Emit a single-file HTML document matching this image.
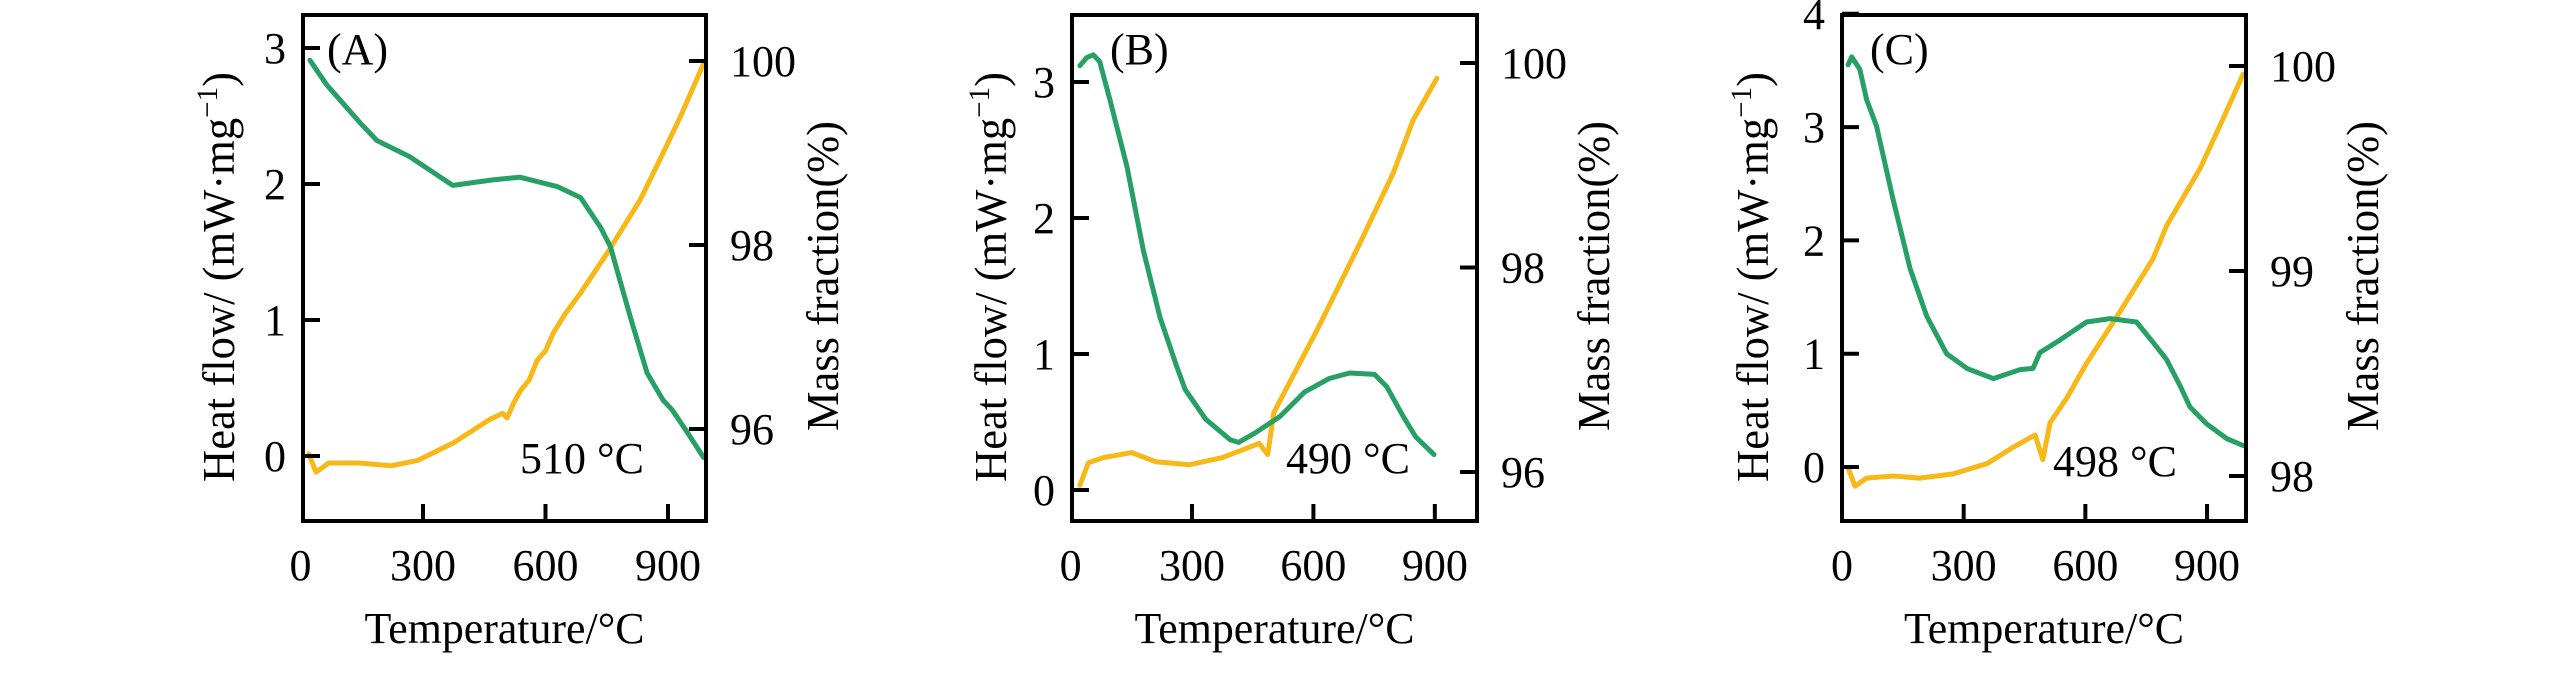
<!DOCTYPE html>
<html><head><meta charset="utf-8"><style>
html,body{margin:0;padding:0;background:#fff;}
svg{display:block;font-family:"Liberation Serif",serif;}
</style></head><body>
<svg id="fig" width="2567" height="674" viewBox="0 0 2567 674"></svg>
<script>
// ---- Panel A data ----
const aDscT = [23,64,146,187,268,373,471,537,630,686,735,759,808,849,888,910,944,987];
const aDscV = [2.91,2.73,2.45,2.32,2.20,1.99,2.03,2.05,1.98,1.90,1.68,1.54,1.02,0.61,0.41,0.34,0.19,-0.01];
const aTgT = [20,38,69,146,222,288,375,462,495,506,523,539,560,580,600,620,648,686,751,832,888,930,986];
const aTgV = [95.73,95.53,95.63,95.63,95.60,95.66,95.85,96.10,96.17,96.12,96.29,96.42,96.53,96.75,96.85,97.05,97.25,97.48,97.91,98.49,99.0,99.39,99.96];
// ---- Panel B data ----
const bDscT = [23,40,56,72,97,139,180,221,262,283,334,394,415,456,517,578,639,690,751,781,822,853,898];
const bDscV = [3.12,3.18,3.20,3.15,2.87,2.38,1.76,1.27,0.91,0.74,0.52,0.37,0.35,0.42,0.54,0.72,0.82,0.86,0.85,0.76,0.54,0.39,0.26];
const bTgT = [23,44,80,151,211,293,374,466,487,502,527,609,633,715,797,846,905];
const bTgV = [95.87,96.09,96.14,96.19,96.10,96.07,96.14,96.28,96.17,96.58,96.77,97.39,97.58,98.24,98.92,99.44,99.85];
// ---- Panel C data ----
const cDscT = [15,24,44,61,85,126,168,209,258,308,373,439,471,488,537,603,661,726,767,800,833,858,899,949,989];
const cDscV = [3.55,3.62,3.51,3.24,3.01,2.36,1.75,1.33,1.0,0.87,0.78,0.86,0.87,1.01,1.12,1.28,1.31,1.28,1.10,0.95,0.72,0.53,0.38,0.25,0.19];
const cTgT = [15,32,61,126,192,274,357,422,476,495,513,554,603,685,767,800,883,932,989];
const cTgV = [98.04,97.95,97.99,98.0,97.99,98.01,98.06,98.14,98.20,98.08,98.26,98.38,98.55,98.80,99.06,99.22,99.50,99.71,99.96];
// ---- tick labels ----
const xTicks = [0,300,600,900];
const aLeftTicks = [0,1,2,3];
const aRightTicks = [96,98,100];
const bLeftTicks = [0,1,2,3];
const bRightTicks = [96,98,100];
const cLeftTicks = [0,1,2,3,4];
const cRightTicks = [98,99,100];

const NS = "http://www.w3.org/2000/svg";
const svg = document.getElementById('fig');
function el(tag, attrs, parent){const e=document.createElementNS(NS,tag);for(const k in attrs)e.setAttribute(k,attrs[k]);(parent||svg).appendChild(e);return e;}
function txt(s, attrs, parent){const e=el('text',attrs,parent);e.textContent=s;return e;}

const GREEN = "#27a066", YELLOW = "#f7b818";

const panels = [
 {id:'a', L:303, R:706, T:15, B:521, x0:300.5, xs:0.4083, yl0:456, yls:136, yr0:[96,429], yrs:92,
  dscT:aDscT, dscV:aDscV, tgT:aTgT, tgV:aTgV, lt:aLeftTicks, rt:aRightTicks, tag:'(A)', tagX:327, temp:'510 °C', tempX:520, tempY:473, yTitleX:234, mTitleX:838},
 {id:'b', L:1072, R:1477, T:15, B:521, x0:1070.6, xs:0.4047, yl0:490, yls:136, yr0:[96,472], yrs:102.25,
  dscT:bDscT, dscV:bDscV, tgT:bTgT, tgV:bTgV, lt:bLeftTicks, rt:bRightTicks, tag:'(B)', tagX:1110, temp:'490 °C', tempX:1286, tempY:473, yTitleX:1006, mTitleX:1609},
 {id:'c', L:1842, R:2246, T:15, B:521, x0:1842, xs:0.4056, yl0:467, yls:113.3, yr0:[98,476], yrs:205,
  dscT:cDscT, dscV:cDscV, tgT:cTgT, tgV:cTgV, lt:cLeftTicks, rt:cRightTicks, tag:'(C)', tagX:1870, temp:'498 °C', tempX:2053, tempY:476, yTitleX:1768, mTitleX:2378}
];

panels.forEach(p=>{
  const g = el('g',{});
  
  
  const X = t => p.x0 + t*p.xs;
  const YL = v => p.yl0 - v*p.yls;
  const YR = v => p.yr0[1] - (v-p.yr0[0])*p.yrs;
  const clip = el('clipPath',{id:'clip-'+p.id},g);
  el('rect',{x:p.L,y:p.T,width:p.R-p.L,height:p.B-p.T},clip);

  const line = (T,V,Y,col,name)=>{
    const d = T.map((t,i)=>(i?'L':'M')+X(t).toFixed(1)+','+Y(V[i]).toFixed(1)).join(' ');
    const path = el('path',{d:d,fill:'none',stroke:col,'stroke-width':5,'stroke-linejoin':'round','stroke-linecap':'round','clip-path':'url(#clip-'+p.id+')'},g);
    
    
  };
  line(p.tgT,p.tgV,YR,YELLOW,'mass-fraction-line-'+p.id);
  line(p.dscT,p.dscV,YL,GREEN,'heat-flow-line-'+p.id);

  const frame = el('rect',{x:p.L,y:p.T,width:p.R-p.L,height:p.B-p.T,fill:'none',stroke:'#000','stroke-width':4},g);
  
  

  xTicks.forEach(t=>{
    const x = X(t);
    if(t>0) el('line',{x1:x,x2:x,y1:p.B,y2:p.B-17,stroke:'#000','stroke-width':4},g);
    const lb = txt(String(t),{x:x,y:580,'font-size':44,'text-anchor':'middle'},g);
    
    
  });
  p.lt.forEach(v=>{
    const y = YL(v);
    el('line',{x1:p.L,x2:p.L+17,y1:y,y2:y,stroke:'#000','stroke-width':4},g);
    const lb = txt(String(v),{x:p.L-17,y:y+15,'font-size':44,'text-anchor':'end'},g);
    
    
  });
  p.rt.forEach(v=>{
    const y = YR(v);
    el('line',{x1:p.R,x2:p.R-17,y1:y,y2:y,stroke:'#000','stroke-width':4},g);
    const lb = txt(String(v),{x:p.R+24,y:y+15,'font-size':44,'text-anchor':'start'},g);
    
    
  });
  const xt = txt('Temperature/°C',{x:(p.L+p.R)/2,y:643,'font-size':44,'text-anchor':'middle',textLength:280,lengthAdjust:'spacingAndGlyphs'},g);
  
  
  const yt = el('text',{x:0,y:0,'font-size':46,'text-anchor':'middle',textLength:410,lengthAdjust:'spacingAndGlyphs',transform:'translate('+p.yTitleX+',277) rotate(-90)'},g);
  
  
  yt.appendChild(document.createTextNode('Heat flow/ (mW·mg'));
  const sup = el('tspan',{'font-size':30,dy:-17},yt); sup.textContent='−1';
  const cl = el('tspan',{'font-size':46,dy:17},yt); cl.textContent=')';
  const mt = txt('Mass fraction(%)',{x:0,y:0,'font-size':46,'text-anchor':'middle',textLength:310,lengthAdjust:'spacingAndGlyphs',transform:'translate('+p.mTitleX+',276) rotate(-90)'},g);
  
  
  const tg = txt(p.tag,{x:p.tagX,y:64,'font-size':44},g);
  
  
  const tp = txt(p.temp,{x:p.tempX,y:p.tempY,'font-size':44},g);
  
  
});
</script>
</body></html>
